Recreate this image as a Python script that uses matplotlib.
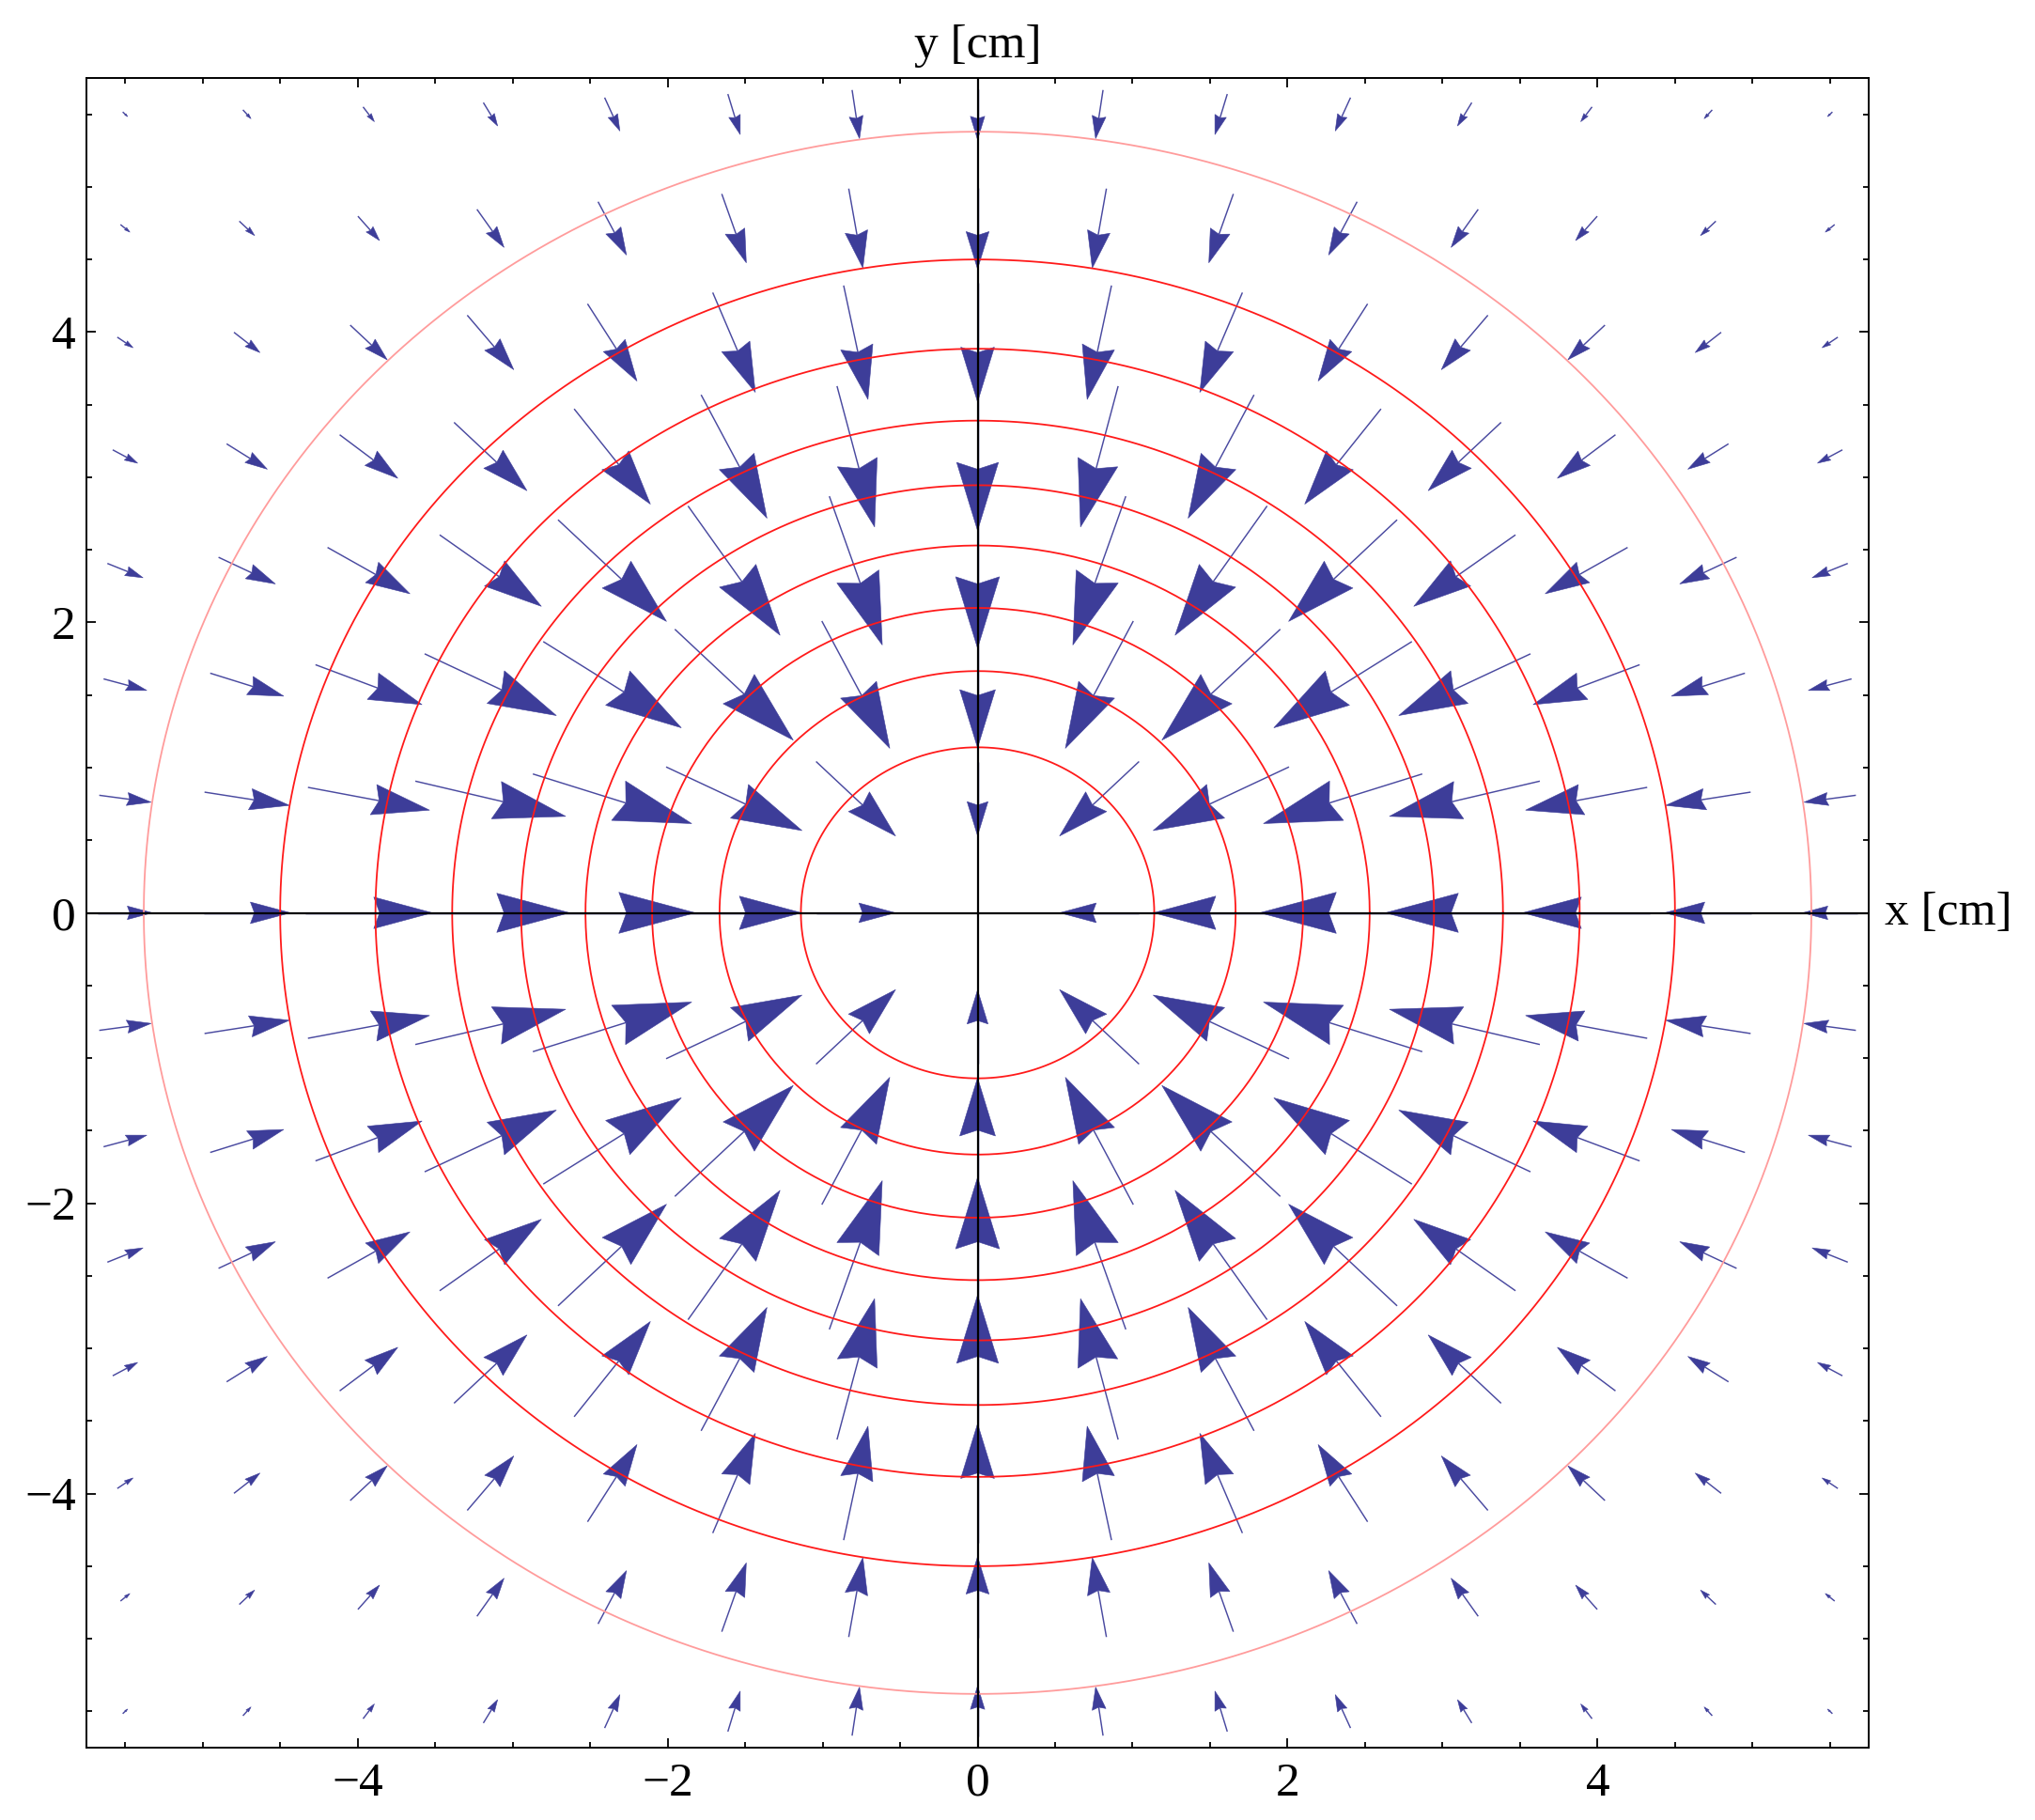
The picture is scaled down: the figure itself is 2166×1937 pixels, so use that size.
import numpy as np
import matplotlib
matplotlib.use("Agg")
import matplotlib.pyplot as plt
from matplotlib.collections import PolyCollection, LineCollection
from matplotlib.ticker import MultipleLocator, FixedLocator

# ---------------- data ----------------
# sample points of the vector field (cm)
grid_x = np.linspace(-5.5, 5.5, 15)
grid_y = np.linspace(-5.5, 5.5, 15)

# radial field (pointing inward): arrow magnitude (plot units) read at each grid radius (cm)
field_r = [0.786, 1.111, 1.571, 1.757, 2.222, 2.357, 2.485, 2.833, 3.143, 3.240,
           3.333, 3.514, 3.929, 4.006, 4.231, 4.444, 4.581, 4.714, 4.779, 4.969,
           5.031, 5.270, 5.500, 5.556, 5.666, 5.720, 5.984, 6.137, 6.334, 6.667,
           6.759, 7.244, 7.778]
field_mag = [0.51, 0.725, 0.87, 0.98, 1.08, 1.07, 1.08, 1.07, 1.02, 1.00,
             0.99, 0.95, 0.82, 0.80, 0.74, 0.665, 0.62, 0.56, 0.555, 0.50,
             0.48, 0.41, 0.35, 0.338, 0.315, 0.29, 0.25, 0.218, 0.185, 0.14,
             0.125, 0.08, 0.045]

# equipotential contour radii (cm); the last one is drawn lighter
contour_r = [1.14, 1.665, 2.10, 2.53, 2.945, 3.39, 3.885, 4.50, 5.38]

x_ticks = [-4, -2, 0, 2, 4]
y_ticks = [-4, -2, 0, 2, 4]
x_label = "x [cm]"
y_label = "y [cm]"

# ---------------- figure ----------------
plt.rcParams['font.family'] = ['Liberation Serif', 'DejaVu Serif']

W, H = 2166, 1937
fig = plt.figure(figsize=(W / 100, H / 100), dpi=100)
ax = fig.add_axes([92 / W, 1 - 1860 / H, (1989 - 92) / W, (1860 - 83) / H])

arrow_color = '#3D3D99'
heads, shafts = [], []
fr = np.array(field_r)
fm = np.array(field_mag)
for x in grid_x:
    for y in grid_y:
        r = np.hypot(x, y)
        if r < 1e-9:
            continue
        idx = np.argmin(np.abs(fr - r))
        L = fm[idx]
        u = -np.array([x, y]) / r
        n = np.array([-u[1], u[0]])
        p = np.array([x, y])
        tail = p - u * L / 2
        tip = p + u * L / 2
        hl = 0.46 * L
        hw = 0.132 * L
        base = tip - u * hl
        notch = tip - u * hl * 0.90
        heads.append([tip, base + n * hw, notch, base - n * hw])
        shafts.append([tail, notch])

ax.add_collection(LineCollection(shafts, colors='#4A4AA0', linewidths=1.05, zorder=2,
                                 capstyle='butt'))
ax.add_collection(PolyCollection(heads, facecolors=arrow_color, edgecolors=arrow_color,
                                 linewidths=0.4, zorder=2))

theta = np.linspace(0, 2 * np.pi, 400)
for k, rc in enumerate(contour_r):
    col = '#FF9C9C' if k == len(contour_r) - 1 else '#FF1A1A'
    ax.plot(rc * np.cos(theta), rc * np.sin(theta), color=col, lw=1.3, zorder=3)

ax.axhline(0, color='black', lw=1.6, zorder=4)
ax.axvline(0, color='black', lw=1.6, zorder=4)

ax.set_xlim(-5.75, 5.75)
ax.set_ylim(-5.75, 5.75)

ax.xaxis.set_major_locator(FixedLocator(x_ticks))
ax.yaxis.set_major_locator(FixedLocator(y_ticks))
ax.xaxis.set_minor_locator(MultipleLocator(0.5))
ax.yaxis.set_minor_locator(MultipleLocator(0.5))
ax.tick_params(which='both', direction='in', top=True, right=True, width=1.3)
ax.tick_params(which='major', length=7, labelsize=37)
ax.tick_params(which='minor', length=4)
ax.tick_params(axis='x', which='major', pad=11)
ax.tick_params(axis='y', which='major', pad=8)
ax.tick_params(labeltop=False, labelright=False)
for s in ax.spines.values():
    s.set_linewidth(1.4)

ax.annotate(y_label, xy=(0, 5.75), xycoords='data', xytext=(0, 16),
            textcoords='offset points', ha='center', va='baseline', fontsize=37)
ax.annotate(x_label, xy=(5.75, 0), xycoords='data', xytext=(12, 0),
            textcoords='offset points', ha='left', va='center', fontsize=37)

fig.savefig('out.png', dpi=100)
